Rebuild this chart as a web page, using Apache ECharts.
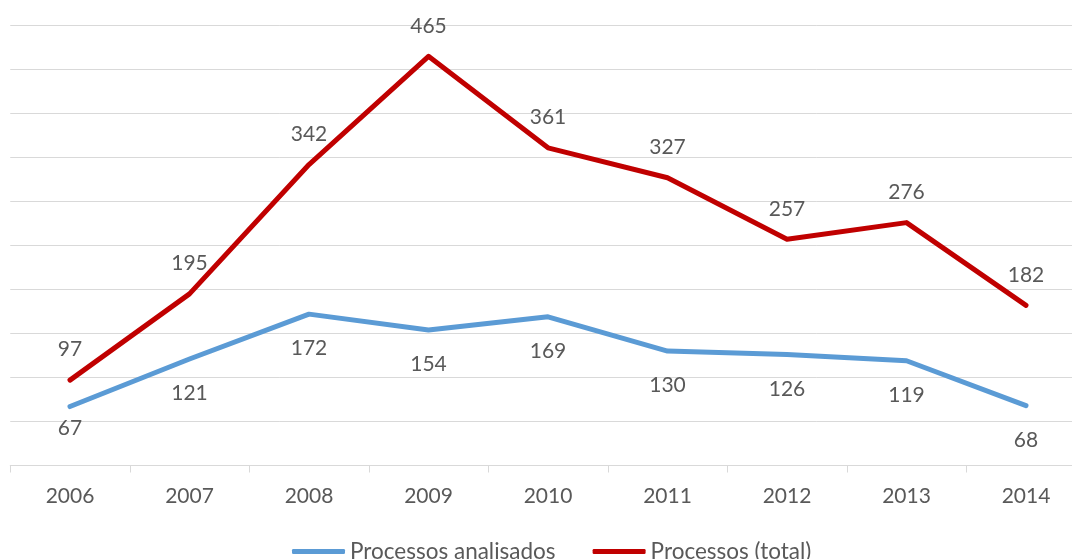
<!DOCTYPE html>
<html>
<head>
<meta charset="utf-8">
<script src="https://cdn.jsdelivr.net/npm/echarts@6/dist/echarts.min.js"></script>
<style>
html,body{margin:0;padding:0;background:#fff;overflow:hidden;width:1072px;height:559px;}
#c{width:1100px;height:559px;}
</style>
</head>
<body>
<div id="c"></div>
<script>
const categories = ['2006','2007','2008','2009','2010','2011','2012','2013','2014'];
const analisados = [67,121,172,154,169,130,126,119,68];
const total = [97,195,342,465,361,327,257,276,182];
const seriesNames = ['Processos analisados','Processos (total)'];

const FONT = 'Lato';
const TXT = '#595959';
const chart = echarts.init(document.getElementById('c'), null, {renderer:'canvas'});

const labelBase = {show:true, color:TXT, fontFamily:FONT, fontSize:21};

chart.setOption({
  animation:false,
  textStyle:{fontFamily:FONT},
  grid:{left:10.25, top:25.5, width:1075.5, height:440, containLabel:false},
  legend:{
    left:292, top:540, padding:0,
    itemWidth:53, itemHeight:5, itemGap:37,
    icon:'roundRect',
    textStyle:{color:TXT, fontFamily:FONT, fontSize:22.5},
    data:seriesNames
  },
  xAxis:{
    type:'category', data:categories, boundaryGap:true,
    axisLine:{lineStyle:{color:'#D9D9D9', width:1}},
    axisTick:{show:true, length:7, lineStyle:{color:'#D9D9D9'}},
    axisLabel:{color:TXT, fontFamily:FONT, fontSize:21, margin:20}
  },
  yAxis:{
    type:'value', min:0, max:500, interval:50,
    axisLabel:{show:false}, axisLine:{show:false}, axisTick:{show:false},
    splitLine:{lineStyle:{color:'#D9D9D9', width:1}}
  },
  series:[
    {
      name:seriesNames[0], type:'line', data:analisados.map((v,i)=> i===0 ? {value:v, label:{distance:11}} : v),
      symbol:'circle', symbolSize:0.1, showSymbol:true,
      lineStyle:{color:'#5B9BD5', width:5, cap:'round', join:'round'},
      itemStyle:{color:'#5B9BD5'},
      label:Object.assign({}, labelBase, {position:'bottom', distance:24}),
      z:2
    },
    {
      name:seriesNames[1], type:'line', data:total,
      symbol:'circle', symbolSize:0.1, showSymbol:true,
      lineStyle:{color:'#C00000', width:5, cap:'round', join:'round'},
      itemStyle:{color:'#C00000'},
      label:Object.assign({}, labelBase, {position:'top', distance:20}),
      z:3
    }
  ]
});
</script>
</body>
</html>
